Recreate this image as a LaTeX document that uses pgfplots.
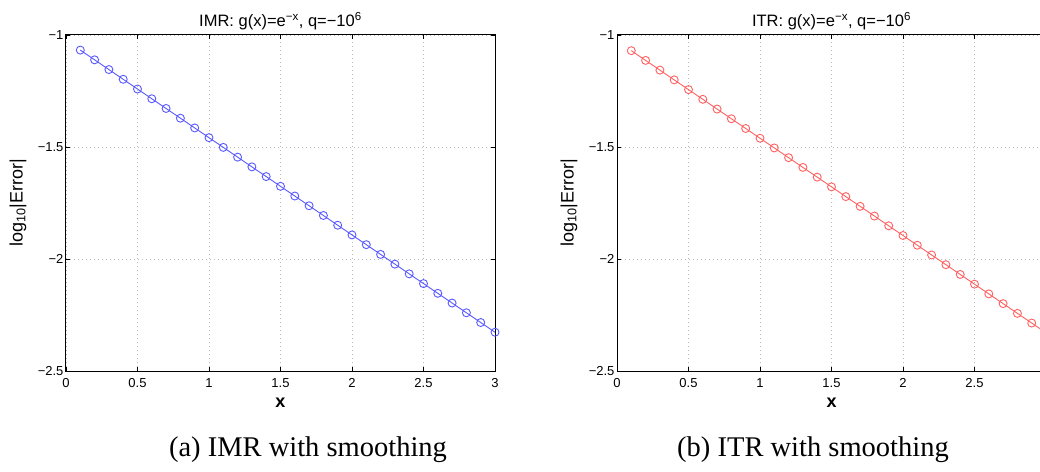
\documentclass[border=0pt]{standalone}
\usepackage{fontspec}
\setmainfont{Liberation Sans}
\newfontfamily\capfont{Liberation Serif}
\usepackage{pgfplots}
\pgfplotsset{compat=1.18}
\definecolor{lblue}{rgb}{0.35,0.35,1}
\definecolor{lred}{rgb}{1,0.38,0.38}
\pgfplotstableread{
x y
0.1 -1.0674
0.2 -1.1109
0.3 -1.1543
0.4 -1.1977
0.5 -1.2412
0.6 -1.2846
0.7 -1.3280
0.8 -1.3714
0.9 -1.4149
1.0 -1.4583
1.1 -1.5017
1.2 -1.5452
1.3 -1.5886
1.4 -1.6320
1.5 -1.6755
1.6 -1.7189
1.7 -1.7623
1.8 -1.8057
1.9 -1.8492
2.0 -1.8926
2.1 -1.9360
2.2 -1.9795
2.3 -2.0229
2.4 -2.0663
2.5 -2.1098
2.6 -2.1532
2.7 -2.1966
2.8 -2.2400
2.9 -2.2835
3.0 -2.3269
}\imrdata
\pgfplotstableread{
x y
0.1 -1.0700
0.2 -1.1134
0.3 -1.1568
0.4 -1.2003
0.5 -1.2437
0.6 -1.2871
0.7 -1.3306
0.8 -1.3740
0.9 -1.4174
1.0 -1.4609
1.1 -1.5043
1.2 -1.5477
1.3 -1.5911
1.4 -1.6346
1.5 -1.6780
1.6 -1.7214
1.7 -1.7649
1.8 -1.8083
1.9 -1.8517
2.0 -1.8952
2.1 -1.9386
2.2 -1.9820
2.3 -2.0254
2.4 -2.0689
2.5 -2.1123
2.6 -2.1557
2.7 -2.1992
2.8 -2.2426
2.9 -2.2860
3.0 -2.3295
}\itrdata
\pgfplotsset{
  matstyle/.style={
    scale only axis, width=429pt, height=336pt,
    xmin=0, xmax=3, ymin=-2.5, ymax=-1,
    xtick={0,0.5,1,1.5,2,2.5,3},
    ytick={-2.5,-2,-1.5,-1},
    yticklabels={−2.5,−2,−1.5,−1},
    tick align=inside, major tick length=4pt,
    tick style={black, line width=0.5pt},
    axis line style={black, line width=1pt},
    grid=major, grid style={dash pattern=on 1pt off 3pt, gray!55, line width=0.7pt},
    tick label style={font=\fontsize{13}{15}\selectfont},
    xticklabel style={anchor=center, yshift=-12pt},
    yticklabel style={xshift=1pt},
    every axis title shift=0pt,
    title style={font=\fontsize{16.5}{18}\selectfont, at={(axis description cs:0.5,1.024)}, anchor=base},
    xlabel style={font=\bfseries\fontsize{18}{20}\selectfont, at={(axis description cs:0.5,-0.095)}, anchor=center},
    ylabel style={font=\fontsize{18}{20}\selectfont, at={(axis description cs:-0.112,0.5)}, anchor=center},
    xlabel={x},
    ylabel={log\textsubscript{10}|Error|},
  }
}
\begin{document}
\begin{tikzpicture}
\useasboundingbox (-66pt,-100pt) rectangle (974pt,371pt);
\begin{axis}[matstyle, at={(0pt,0pt)}, anchor=south west,
  xticklabels={0,0.5,1,1.5,2,2.5,3},
  title={IMR: g(x)=e\textsuperscript{−x}, q=−10\textsuperscript{6}}]
\addplot[color=lblue, line width=0.9pt, mark=o, mark size=4pt, mark options={line width=0.9pt}] table[x=x,y=y] {\imrdata};
\end{axis}
\begin{axis}[matstyle, at={(551pt,0pt)}, anchor=south west,
  xticklabels={0,0.5,1,1.5,2,2.5,{}},
  title={ITR: g(x)=e\textsuperscript{−x}, q=−10\textsuperscript{6}}]
\addplot[color=lred, line width=0.9pt, mark=o, mark size=4pt, mark options={line width=0.9pt}] table[x=x,y=y] {\itrdata};
\end{axis}
\node[font=\capfont\fontsize{28.5}{32}\selectfont] at (242pt,-79pt) {(a) IMR with smoothing};
\node[font=\capfont\fontsize{28.5}{32}\selectfont] at (747pt,-79pt) {(b) ITR with smoothing};
\end{tikzpicture}
\end{document}
